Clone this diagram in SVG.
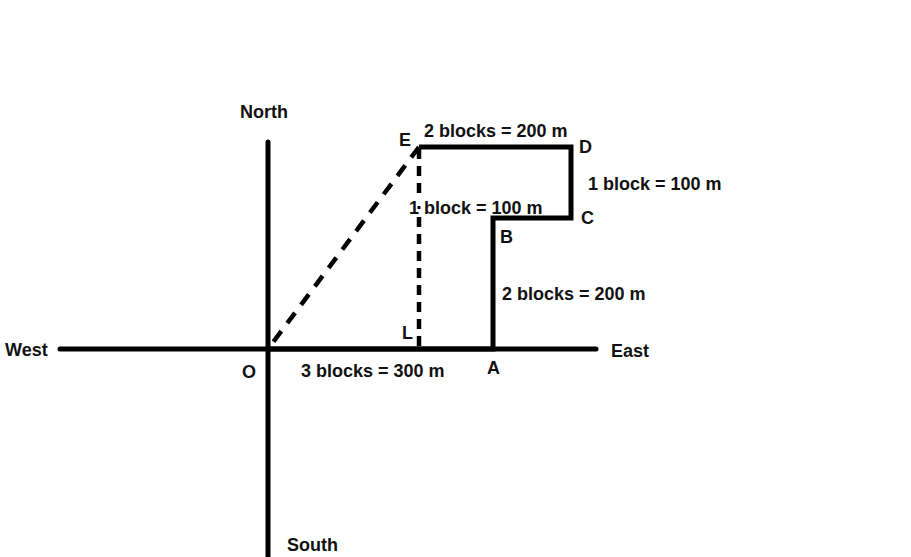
<svg xmlns="http://www.w3.org/2000/svg" width="911" height="557" viewBox="0 0 911 557">
<style>
.ax{stroke:#000;stroke-width:5;fill:none;stroke-linecap:round}
.pth{stroke:#000;stroke-width:5;fill:none;stroke-linejoin:miter}
.dash{stroke:#000;stroke-width:4.5;fill:none;stroke-dasharray:10 7}
.dash2{stroke:#000;stroke-width:4.5;fill:none;stroke-dasharray:13 10}
text{font-family:"Liberation Sans",Arial,sans-serif;font-weight:bold;font-size:18px;fill:#111}
</style>
<rect width="911" height="557" fill="#fff"/>
<g id="connectors">
<line class="ax" x1="268" y1="142" x2="268" y2="560"/>
<line class="ax" x1="60" y1="349" x2="596" y2="349"/>
<polyline class="pth" points="268,349 493,349 493,218 571,218 571,147 419,147"/>
<line class="dash" x1="419" y1="149" x2="419" y2="349"/>
<line class="dash2" x1="419" y1="147" x2="268" y2="349"/>
</g>
<g id="labels">
<text x="240" y="118">North</text>
<text x="287" y="551">South</text>
<text x="5" y="356">West</text>
<text x="611" y="357">East</text>
<text x="242" y="378">O</text>
<text x="487" y="374">A</text>
<text x="500" y="243">B</text>
<text x="581" y="224">C</text>
<text x="579" y="153">D</text>
<text x="399" y="146">E</text>
<text x="402" y="339">L</text>
<text x="424" y="137">2 blocks = 200 m</text>
<text x="588" y="190">1 block = 100 m</text>
<rect x="407" y="198" width="24" height="18" fill="#fff"/>
<line x1="419" y1="206" x2="419" y2="209" stroke="#000" stroke-width="3"/>
<text x="409" y="214">1 block = 100 m</text>
<text x="502" y="300">2 blocks = 200 m</text>
<text x="301" y="377">3 blocks = 300 m</text>
</g>
</svg>
